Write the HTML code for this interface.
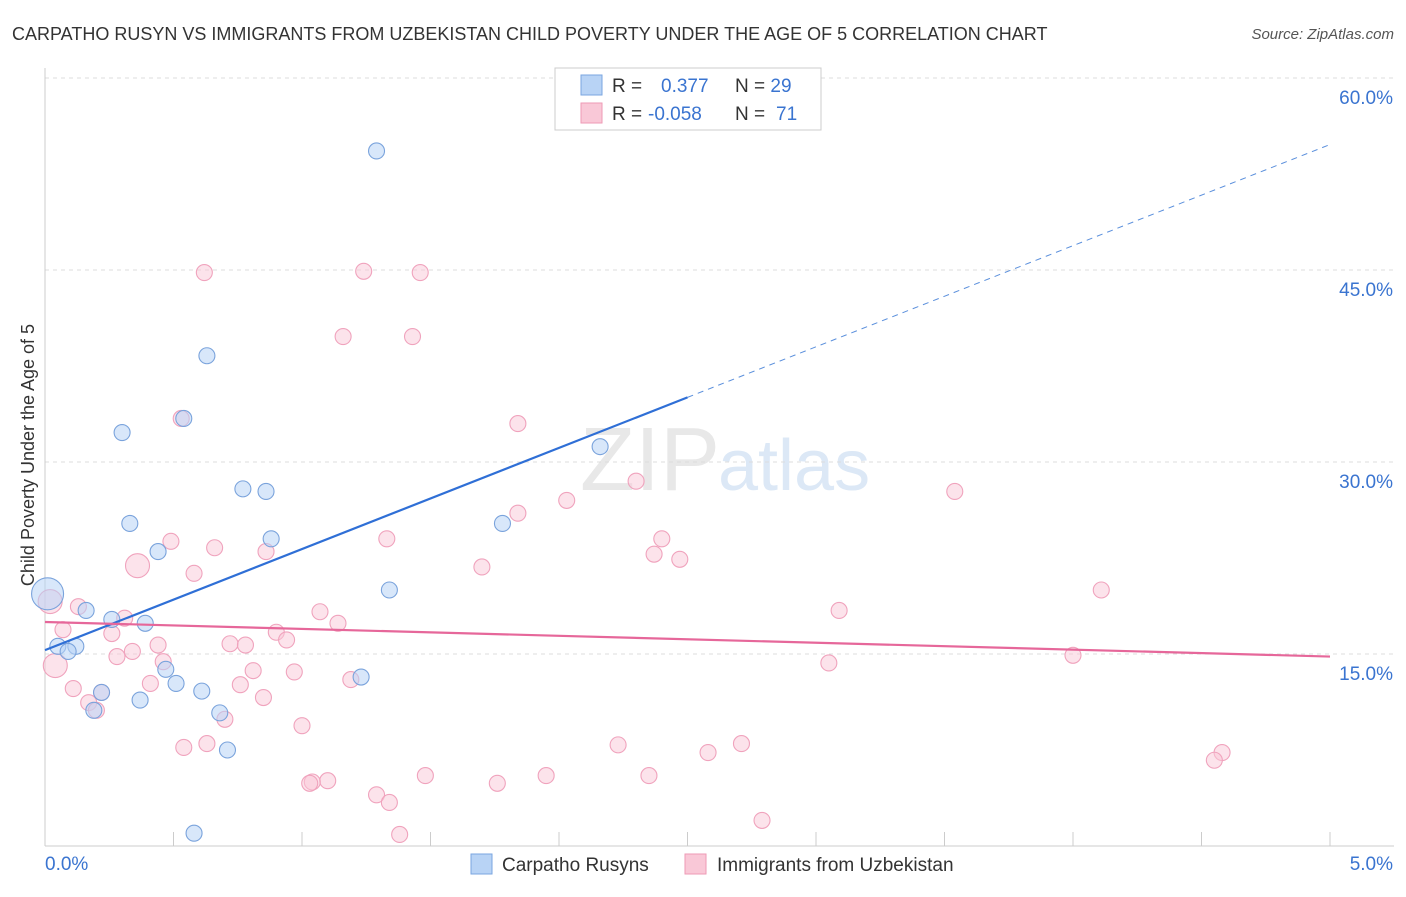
<!DOCTYPE html>
<html><head><meta charset="utf-8"><style>
body{margin:0;background:#fff;font-family:"Liberation Sans",sans-serif;}
svg text{font-family:"Liberation Sans",sans-serif;}
</style></head><body>
<svg id="chart" width="1406" height="892">
<text x="12" y="40" font-size="18" fill="#333">CARPATHO RUSYN VS IMMIGRANTS FROM UZBEKISTAN CHILD POVERTY UNDER THE AGE OF 5 CORRELATION CHART</text>
<text x="1394" y="39" font-size="15" fill="#555" font-style="italic" text-anchor="end">Source: ZipAtlas.com</text>
<text x="720" y="490" font-size="90" fill="#e8e8e8" text-anchor="end" font-family="Liberation Serif">ZIP</text>
<text x="718" y="490" font-size="72" fill="#dce8f6">atlas</text>
<g id="grid"></g><g id="marks"></g>
<text transform="translate(34,455) rotate(-90)" font-size="18" fill="#333" text-anchor="middle">Child Poverty Under the Age of 5</text>
<g>
<rect x="555" y="68" width="266" height="62" fill="#fff" stroke="#ccc"/>
<rect x="581" y="75" width="21" height="20" fill="#b8d3f5" stroke="#7aa6e0"/>
<rect x="581" y="103" width="21" height="20" fill="#f9c8d7" stroke="#ee9ab5"/>
<text x="612" y="92" font-size="19" fill="#333">R = <tspan fill="#3a74d0" x="661">0.377</tspan><tspan x="735" fill="#333">N = </tspan><tspan fill="#3a74d0">29</tspan></text>
<text x="612" y="120" font-size="19" fill="#333">R = <tspan fill="#3a74d0" x="648">-0.058</tspan><tspan x="735" fill="#333">N = </tspan><tspan fill="#3a74d0" x="776">71</tspan></text>
</g>
<g>
<rect x="471" y="854" width="21" height="20" fill="#b8d3f5" stroke="#7aa6e0"/>
<text x="502" y="871" font-size="19" fill="#333">Carpatho Rusyns</text>
<rect x="685" y="854" width="21" height="20" fill="#f9c8d7" stroke="#ee9ab5"/>
<text x="717" y="871" font-size="19" fill="#333">Immigrants from Uzbekistan</text>
</g>
</svg>
<script>
const yTicks=[15,30,45,60];
const yTickLabels=["15.0%","30.0%","45.0%","60.0%"];
const xTicks=[0,0.5,1,1.5,2,2.5,3,3.5,4,4.5,5];
const blueX=[1.29,0.63,0.30,0.54,2.16,0.77,0.86,0.33,1.78,0.88,0.44,1.34,0.16,0.26,0.39,0.05,0.12,0.09,0.47,1.23,0.51,0.22,0.61,0.37,0.19,0.68,0.71,0.58];
const blueY=[54.3,38.3,32.3,33.4,31.2,27.9,27.7,25.2,25.2,24.0,23.0,20.0,18.4,17.7,17.4,15.6,15.6,15.2,13.8,13.2,12.7,12.0,12.1,11.4,10.6,10.4,7.5,1.0];
const pinkX=[0.62,1.24,1.46,1.16,1.43,0.53,1.84,2.30,3.54,2.03,1.84,0.49,1.33,2.40,0.66,0.86,2.37,2.47,1.70,0.58,4.11,0.13,1.07,3.09,0.31,1.14,0.07,0.90,0.26,0.94,0.44,0.72,0.78,0.34,0.28,4.00,0.46,3.05,0.81,0.97,1.19,0.41,0.76,0.11,0.22,0.85,0.17,0.20,0.70,1.00,2.23,0.63,2.71,0.54,2.58,4.58,4.55,1.48,1.95,2.35,1.10,1.04,1.03,1.76,1.29,1.34,2.79,1.38];
const pinkY=[44.8,44.9,44.8,39.8,39.8,33.4,33.0,28.5,27.7,27.0,26.0,23.8,24.0,24.0,23.3,23.0,22.8,22.4,21.8,21.3,20.0,18.7,18.3,18.4,17.8,17.4,16.9,16.7,16.6,16.1,15.7,15.8,15.7,15.2,14.8,14.9,14.4,14.3,13.7,13.6,13.0,12.7,12.6,12.3,12.0,11.6,11.2,10.6,9.9,9.4,7.9,8.0,8.0,7.7,7.3,7.3,6.7,5.5,5.5,5.5,5.1,5.0,4.9,4.9,4.0,3.4,2.0,0.9];
const bigBlueX=[0.01],bigBlueY=[19.7];
const bigPinkX=[0.36,0.02,0.04],bigPinkY=[21.9,19.1,14.1];
const blueTrend=[15.3,54.8], blueSolidEnd=2.5;
const pinkTrend=[17.5,14.8];
const sx=v=>45+v*257, sy=v=>846-v*12.8;
const NS="http://www.w3.org/2000/svg";
const grid=document.getElementById('grid'), marks=document.getElementById('marks');
function mk(tag,attrs,parent){const e=document.createElementNS(NS,tag);for(const k in attrs)e.setAttribute(k,attrs[k]);parent.appendChild(e);return e;}
yTicks.forEach((t,i)=>{
 const l=mk('line',{x1:45,x2:1394,y1:sy(t),y2:sy(t),stroke:'#ddd','stroke-dasharray':'4,4'},grid);
 
 
 const tx=mk('text',{x:1393,y:sy(t)+26,'font-size':19,fill:'#3a74d0','text-anchor':'end'},grid);
 tx.textContent=yTickLabels[i];
 
 
});
const ax=mk('line',{x1:45,x2:1394,y1:846,y2:846,stroke:'#ccc'},grid);


const ay=mk('line',{x1:45,x2:45,y1:68,y2:846,stroke:'#ccc'},grid);


xTicks.forEach(t=>{const l=mk('line',{x1:sx(t),x2:sx(t),y1:832,y2:846,stroke:'#ccc'},grid);
 
 });
const x0=mk('text',{x:45,y:870,'font-size':19,fill:'#3a74d0'},grid);x0.textContent='0.0%';


const x1=mk('text',{x:1393,y:870,'font-size':19,fill:'#3a74d0','text-anchor':'end'},grid);x1.textContent='5.0%';


function dots(X,Y,r,fill,stroke,name){X.forEach((x,i)=>{const c=mk('circle',{cx:sx(x),cy:sy(Y[i]),r:r,fill:fill,stroke:stroke,'stroke-width':1.1},marks);
 
 });}
dots(pinkX,pinkY,8,'rgba(249,200,215,0.5)','#f0a3bd','pink-point');
dots(bigPinkX,bigPinkY,12,'rgba(249,200,215,0.5)','#f0a3bd','pink-point');
dots(blueX,blueY,8,'rgba(184,211,245,0.55)','#7aa3dc','blue-point');
dots(bigBlueX,bigBlueY,16,'rgba(184,211,245,0.55)','#7aa3dc','blue-point');
const by=x=>blueTrend[0]+(blueTrend[1]-blueTrend[0])*x/5;
const b1=mk('line',{x1:sx(0),y1:sy(by(0)),x2:sx(blueSolidEnd),y2:sy(by(blueSolidEnd)),stroke:'#2f6fd6','stroke-width':2.2},marks);


const b2=mk('line',{x1:sx(blueSolidEnd),y1:sy(by(blueSolidEnd)),x2:sx(5),y2:sy(by(5)),stroke:'#5a8fdc','stroke-width':1,'stroke-dasharray':'6,5'},marks);


const p1=mk('line',{x1:sx(0),y1:sy(pinkTrend[0]),x2:sx(5),y2:sy(pinkTrend[1]),stroke:'#e6679a','stroke-width':2.2},marks);


</script>
</body></html>
